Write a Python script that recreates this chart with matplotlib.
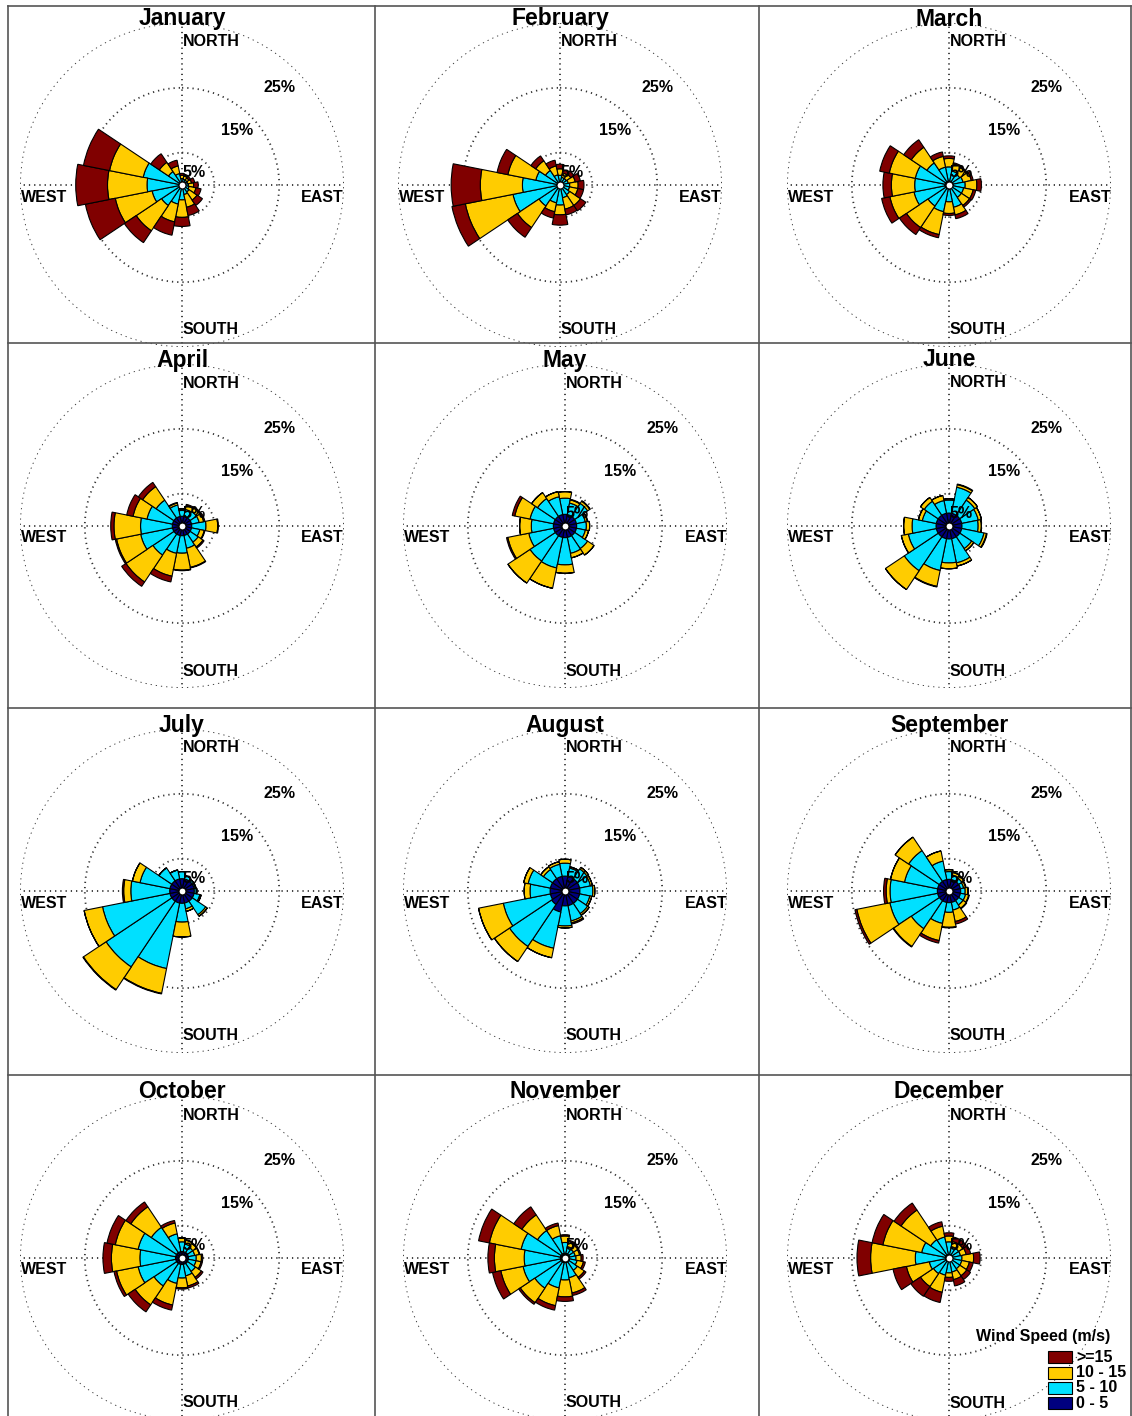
import numpy as np
import matplotlib.pyplot as plt
from matplotlib.patches import Rectangle
from matplotlib.lines import Line2D

plt.rcParams['font.family'] = ['Liberation Sans', 'DejaVu Sans']

# wind direction sectors, clockwise from north
directions = ["N", "NNE", "NE", "ENE", "E", "ESE", "SE", "SSE",
              "S", "SSW", "SW", "WSW", "W", "WNW", "NW", "NNW"]
speed_bins = ["0 - 5", "5 - 10", "10 - 15", ">=15"]
bin_colors = ["#000080", "#00E0FF", "#FFCC00", "#800000"]
months = ["January", "February", "March", "April", "May", "June",
          "July", "August", "September", "October", "November", "December"]

# frequency (%) per direction, one row per speed bin (0-5, 5-10, 10-15, >=15)
jan = [[.4, .4, .4, .4, .4, .4, .4, .4, .4, .4, .4, .4, .4, .4, .4, .4],
       [.6, .5, .5, .5, .6, .7, .9, 1.1, 1.9, 2.6, 3.4, 4.3, 5.0, 5.7, 2.1, 1.4],
       [.5, .5, .4, .6, .8, 1.1, 1.5, 2.0, 2.7, 2.8, 4.7, 5.8, 6.1, 5.3, 1.7, 1.2],
       [.3, .3, .3, .5, .7, .8, 1.0, 1.3, 1.4, 2.1, 2.2, 4.7, 4.9, 4.1, 1.6, .9]]
feb = [[.4, .4, .4, .4, .4, .4, .4, .4, .4, .4, .4, .4, .4, .4, .4, .4],
       [1.1, .8, .8, .9, 1.1, 1.1, 1.4, 1.6, 2.7, 2.4, 3.5, 7.0, 5.4, 3.4, 2.3, 1.2],
       [1.0, .7, .8, 1.1, 1.3, 1.3, 2.0, 1.8, 1.5, 1.4, 4.0, 7.5, 6.5, 4.4, 1.8, 1.4],
       [.7, .5, .6, .8, .9, .9, 1.0, .9, 1.6, 1.0, 1.8, 2.1, 4.5, 1.7, .9, .9]]
mar = [[.6, .6, .6, .6, .6, .6, .6, .6, .6, .6, .6, .6, .6, .6, .6, .6],
       [2.2, 1.6, 1.4, 1.6, 1.9, 1.7, 1.7, 2.9, 2.0, 3.6, 3.3, 4.9, 4.7, 4.7, 3.5, 2.2],
       [1.3, 1.1, 1.2, 1.3, 1.8, 1.5, 1.5, 1.2, 1.8, 3.6, 4.0, 3.8, 3.6, 4.1, 2.9, 1.7],
       [.4, .2, .2, .3, .7, .4, .3, .6, .3, .5, 1.3, 1.3, 1.3, 1.5, 1.4, .7]]
apr = [[1.5, 1.5, 1.5, 1.5, 1.5, 1.5, 1.5, 1.5, 1.5, 1.5, 1.5, 1.5, 1.5, 1.5, 1.5, 1.5],
       [.9, 1.1, 1.2, 1.2, 2.2, 1.3, 1.5, 2.0, 2.7, 2.8, 3.9, 5.0, 4.9, 4.0, 3.3, 1.8],
       [.2, .6, .6, .7, 1.8, .7, .9, 3.0, 2.6, 3.6, 5.0, 3.8, 4.1, 2.2, 2.5, .3],
       [.1, .2, .2, .2, .1, .1, .2, .1, .1, .9, .8, .2, .5, 1.0, .8, .1]]
may = [[1.8, 1.8, 1.8, 1.8, 1.8, 1.8, 1.8, 1.8, 1.8, 1.8, 1.8, 1.8, 1.8, 1.8, 1.8, 1.8],
       [2.5, 1.8, 2.4, 1.4, 1.5, 1.4, 2.4, 2.5, 4.2, 4.8, 4.7, 3.9, 3.4, 3.7, 3.3, 2.8],
       [1.0, .5, .4, .3, .5, .5, 1.2, .7, 1.3, 3.2, 4.1, 3.3, 1.8, 2.4, 1.1, .8],
       [0, .1, .1, .1, 0, 0, 0, 0, 0, 0, 0, .2, 0, .4, 0, 0]]
jun = [[2.0, 2.0, 2.0, 2.0, 2.0, 2.0, 2.0, 2.0, 2.0, 2.0, 2.0, 2.0, 2.0, 2.0, 2.0, 2.0],
       [2.0, 4.1, 2.8, 2.6, 2.5, 3.5, 2.2, 3.8, 3.7, 5.0, 6.3, 4.4, 3.7, 2.2, 2.6, 2.0],
       [.2, .4, .5, .5, .5, .4, .4, .5, .9, 2.5, 3.5, 1.1, 1.3, .6, .7, .8],
       [0, .1, 0, 0, 0, .1, 0, 0, 0, .1, 0, 0, 0, 0, 0, 0]]
jul = [[1.9, 1.9, 1.9, 1.9, 1.9, 1.9, 1.9, 1.9, 1.9, 1.9, 1.9, 1.9, 1.9, 1.9, 1.9, 1.9],
       [1.1, .5, .3, .2, .3, .9, 2.5, .9, 2.9, 10.3, 12.2, 10.6, 6.0, 4.7, 2.4, 1.4],
       [0, 0, 0, .1, .1, .2, .3, .4, 2.3, 3.9, 4.2, 2.9, 1.1, 1.2, 0, 0],
       [0, 0, 0, 0, 0, 0, 0, 0, 0, .1, .1, 0, .2, 0, 0, 0]]
aug = [[2.3, 2.3, 2.3, 2.3, 2.3, 2.3, 2.3, 2.3, 2.3, 3.3, 2.5, 2.3, 2.3, 2.3, 2.3, 2.3],
       [2.0, 1.3, 1.8, 1.7, 2.0, 1.6, 1.9, 2.4, 3.1, 5.7, 7.8, 7.4, 3.1, 3.5, 1.7, 1.9],
       [.6, .2, .3, .3, .3, .3, .3, .3, .3, 1.5, 2.8, 3.9, .9, .7, .5, .4],
       [0, 0, 0, 0, 0, 0, 0, .2, 0, 0, 0, 0, 0, 0, 0, 0]]
sep = [[1.8, 1.8, 1.8, 1.8, 1.8, 1.8, 1.8, 1.8, 1.8, 1.8, 1.8, 1.8, 1.8, 1.8, 1.8, 1.8],
       [1.2, .7, .6, .5, .7, .8, .8, 1.2, 1.5, 3.3, 5.2, 7.5, 7.3, 5.2, 5.7, 2.9],
       [.3, .4, .4, .3, .4, .5, .6, 1.8, 2.3, 2.7, 3.3, 5.2, .6, 2.2, 2.5, 1.6],
       [0, .1, .1, .1, .1, .1, .1, .4, .1, .4, .1, .3, .4, 0, 0, 0]]
oct_ = [[1.0, 1.0, 1.0, 1.0, 1.0, 1.0, 1.0, 1.0, 1.0, 1.0, 1.0, 1.0, 1.0, 1.0, 1.0, 1.0],
        [1.5, 1.2, 1.0, 1.0, 1.2, 1.2, 1.5, 1.8, 2.1, 3.0, 4.2, 5.9, 5.5, 5.9, 4.7, 2.8],
        [.6, .6, .7, .7, .8, .8, 1.1, 1.6, 1.5, 3.4, 3.5, 3.4, 4.4, 3.6, 3.8, 1.7],
        [0, .1, .1, .1, .2, .2, .3, .3, .2, .8, 1.3, .4, 1.3, 1.3, .9, .4]]
nov = [[.7, .7, .7, .7, .7, .7, .7, .7, .7, .7, .7, .7, .7, .7, .7, .7],
       [1.7, 1.1, .9, .9, 1.0, 1.2, 1.6, 2.4, 2.7, 4.0, 4.9, 5.9, 5.6, 6.2, 4.4, 2.8],
       [1.0, .8, .8, .7, .8, 1.0, 1.3, 2.4, 2.6, 2.8, 2.7, 3.5, 4.6, 5.0, 2.9, 1.6],
       [.2, .2, .2, .2, .3, .3, .3, .4, .7, .7, .3, 1.3, 1.0, 1.7, 1.5, .4]]
dec = [[.5, .5, .5, .5, .5, .5, .5, .5, .5, .5, .5, .5, .5, .5, .5, .5],
       [2.0, 1.3, 1.3, 1.3, 1.5, 1.5, 1.5, 1.7, 1.8, 2.2, 2.4, 2.6, 4.7, 3.8, 2.9, 2.8],
       [.9, .8, .8, .9, 1.8, 1.2, 1.3, 1.2, .7, 2.7, 2.4, 3.6, 6.9, 6.1, 5.5, 1.7],
       [.5, .7, .7, .7, 1.0, .6, .7, 1.0, .6, 1.6, 1.8, 2.1, 2.1, 1.7, 1.3, .7]]
month_data = [jan, feb, mar, apr, may, jun, jul, aug, sep, oct_, nov, dec]

rings = [5, 15, 25]
rmax = 25

# layout in pixels
W, H = 1132, 1416
R = 162
row_cy = [185, 526, 891, 1258]
col_cx = [182, 565, 949]

fig = plt.figure(figsize=(W / 100, H / 100), dpi=100)

theta = np.deg2rad(np.arange(16) * 22.5)
width = 2 * np.pi / 16
circ = np.linspace(0, 2 * np.pi, 400)
dot = (0, (0.7, 2.2))
grid_kw = dict(color='#333333', lw=1.3, linestyle=dot, zorder=1)

for i, (name, data) in enumerate(zip(months, month_data)):
    r, c = divmod(i, 3)
    cx = col_cx[c] - (5 if i == 1 else 0)
    cy = row_cy[r]
    ax = fig.add_axes([(cx - R) / W, 1 - (cy + R) / H, 2 * R / W, 2 * R / H],
                      projection='polar')
    ax.set_theta_zero_location('N')
    ax.set_theta_direction(-1)
    ax.set_ylim(0, rmax)
    ax.axis('off')

    # dotted reference circles and axes
    for rr in rings:
        ax.plot(circ, np.full_like(circ, rr), **grid_kw)
    for t in [0, np.pi / 2, np.pi, 3 * np.pi / 2]:
        ax.plot([t, t], [0, rmax], **grid_kw)

    # stacked sectors
    bottom = np.zeros(16)
    for k in range(4):
        vals = np.array(data[k])
        ax.bar(theta, vals, width=width, bottom=bottom, color=bin_colors[k],
               edgecolor='black', linewidth=0.8, zorder=2)
        bottom += vals
    ax.plot(0, 0, 'o', ms=5, mfc='white', mec='black', mew=0.8, zorder=4)

    for rr in rings:
        ax.text(np.pi / 4, 0.93 * rr - 2.0, f"{rr}%", ha='center', va='center',
                fontsize=11.5, fontweight='bold', zorder=5)

    kw = dict(textcoords='offset pixels', fontsize=11.5, fontweight='bold',
              va='center', zorder=5)
    ax.annotate("NORTH", xy=(0, rmax), xytext=(1, -19), ha='left', **kw)
    ax.annotate("SOUTH", xy=(np.pi, rmax), xytext=(1, 17), ha='left', **kw)
    ax.annotate("WEST", xy=(3 * np.pi / 2, rmax), xytext=(1, -12), ha='left', **kw)
    ax.annotate("EAST", xy=(np.pi / 2, rmax), xytext=(0, -12), ha='right', **kw)

    fig.text(cx / W, 1 - (cy - 166) / H, name, ha='center', va='center',
             fontsize=16.5, fontweight='bold')

# panel frame lines
for x in [8, 375, 759, 1131]:
    fig.add_artist(Line2D([x / W, x / W], [0, 1 - 6 / H], color='#555555', lw=1.2))
for y in [6, 343, 708, 1075]:
    fig.add_artist(Line2D([8 / W, 1131 / W], [1 - y / H, 1 - y / H], color='#555555', lw=1.2))

# legend
fig.text(976 / W, 1 - 1336 / H, "Wind Speed (m/s)", ha='left', va='center',
         fontsize=11.5, fontweight='bold')
leg_y = [1357, 1372.5, 1388, 1403]
for k, yy in enumerate(leg_y):
    kk = 3 - k
    fig.add_artist(Rectangle((1048 / W, 1 - (yy + 6) / H), 24 / W, 12 / H,
                             facecolor=bin_colors[kk], edgecolor='black', lw=0.8))
    fig.text(1076 / W, 1 - yy / H, speed_bins[kk], ha='left', va='center',
             fontsize=11.5, fontweight='bold')

fig.savefig("out.png", dpi=100)
